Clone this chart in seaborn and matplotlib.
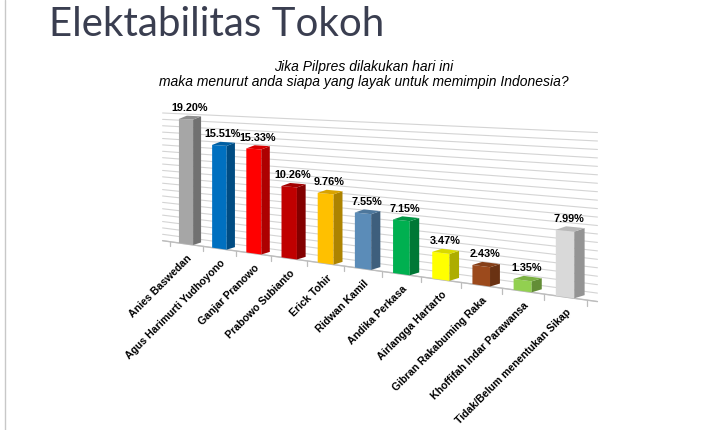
import numpy as np
import matplotlib
matplotlib.use("Agg")
import matplotlib.pyplot as plt
import matplotlib.colors as mcolors
from matplotlib.transforms import Transform
from matplotlib.patches import Polygon
from matplotlib.lines import Line2D
import seaborn as sns

# --- data ---
names = ["Anies Baswedan", "Agus Harimurti Yudhoyono", "Ganjar Pranowo",
         "Prabowo Subianto", "Erick Tohir", "Ridwan Kamil", "Andika Perkasa",
         "Airlangga Hartarto", "Gibran Rakabuming Raka",
         "Khoffifah Indar Parawansa", "Tidak/Belum menentukan Sikap"]
values = [19.20, 15.51, 15.33, 10.26, 9.76, 7.55, 7.15, 3.47, 2.43, 1.35, 7.99]
colors = ["#a6a6a6", "#0070c0", "#ff0000", "#c00000", "#ffc000", "#5b8cb8",
          "#00b050", "#ffff00", "#9c4a1c", "#92d050", "#d9d9d9"]
grid_levels = list(range(0, 21))

sns.set_style("white")
plt.rcParams["font.family"] = ["Liberation Sans", "DejaVu Sans"]

W, H = 720, 430


# perspective-ish mapping from (category, value) to pixels, like the 3D chart
class Proj(Transform):
    input_dims = 2
    output_dims = 2
    is_separable = False
    has_inverse = False

    def transform_non_affine(self, xy):
        xy = np.asarray(xy, dtype=float).reshape(-1, 2)
        x, y = xy[:, 0], xy[:, 1]
        px = 186 + 32.9 * x + 0.5 * x ** 2
        bot = 242 + 0.14 * (px - 172)
        top = 113 + 0.045 * (px - 163)
        py = bot + (y / 20.0) * (top - bot)
        return np.column_stack([px, H - py])


proj = Proj()

fig = plt.figure(figsize=(W / 100, H / 100), dpi=100)
ax = fig.add_axes([0, 0, 1, 1])

sns.barplot(x=names, y=values, hue=names, palette=colors, legend=False,
            width=0.43, saturation=1, ax=ax, zorder=3)
ax.set_axis_off()

# gridlines and floor edge
x0, x1 = -0.72, 10.75
for g in grid_levels:
    ax.plot([x0, x1], [g, g], color="#d4d4d4", lw=0.8, transform=proj,
            clip_on=False, zorder=1)
ax.plot([x0, x1], [0, 0], color="#bdbdbd", lw=1.0, transform=proj,
        clip_on=False, zorder=2)
for i in range(len(names) + 1):
    ax.plot([i - 0.5, i - 0.5], [0, -0.7], color="#bdbdbd", lw=0.9,
            transform=proj, clip_on=False, zorder=2)

# bars: re-project seaborn's rectangles and add side/top faces
d, dz = 0.24, 0.55
for bar, c in zip(ax.patches[:len(values)], colors):
    bx, bw, bh = bar.get_x(), bar.get_width(), bar.get_height()
    bar.set_transform(proj)
    bar.set_clip_on(False)
    bar.set_edgecolor("none")
    rgb = np.array(mcolors.to_rgb(c))
    side = Polygon([(bx + bw, 0), (bx + bw + d, dz), (bx + bw + d, bh + dz),
                    (bx + bw, bh)], closed=True, facecolor=rgb * 0.68,
                   edgecolor="none", transform=proj, clip_on=False, zorder=3)
    topf = Polygon([(bx, bh), (bx + bw, bh), (bx + bw + d, bh + dz),
                    (bx + d, bh + dz)], closed=True, facecolor=rgb * 0.85,
                   edgecolor="none", transform=proj, clip_on=False, zorder=3)
    ax.add_patch(side)
    ax.add_patch(topf)

# value labels
for i, v in enumerate(values):
    ax.annotate(f"{v:.2f}%", xy=(i + 0.1, v + dz), xycoords=proj,
                xytext=(0, 2), textcoords="offset points", ha="center",
                va="bottom", fontsize=7.8, fontweight="bold", color="black")

# category labels
for i, n in enumerate(names):
    ax.annotate(n, xy=(i, 0), xycoords=proj, xytext=(0.5, -7),
                textcoords="offset points", ha="right", va="top",
                rotation=45, rotation_mode="anchor", fontsize=7.6,
                fontweight="bold", color="black")

# slide title and question
fig.text(49 / W, 1 - 6 / H, "Elektabilitas Tokoh", ha="left", va="top",
         fontsize=29, color="#3a3e50", family=["Lato", "DejaVu Sans"])
fig.text(364 / W, 1 - 74.5 / H,
         "Jika Pilpres dilakukan hari ini\nmaka menurut anda siapa yang layak untuk memimpin Indonesia?",
         ha="center", va="center", fontsize=10, style="italic",
         linespacing=1.1, color="black")

fig.add_artist(Line2D([4.5 / W, 4.5 / W], [0, 1], color="#c8c8c8", lw=1))

fig.savefig("out.png", dpi=100)
